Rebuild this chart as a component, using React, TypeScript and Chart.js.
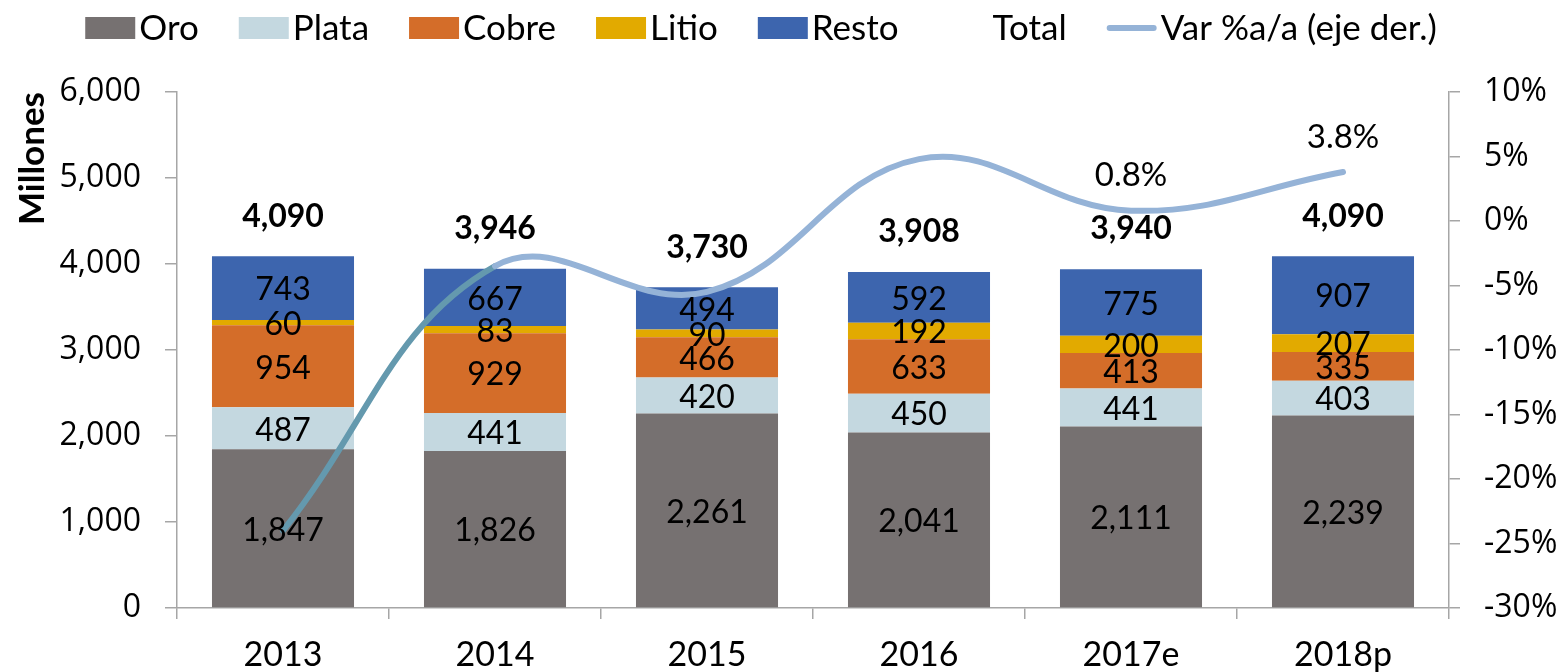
import React, { useEffect, useRef } from 'react';
import { Chart, registerables } from 'chart.js';

Chart.register(...registerables);

// ---- Data ----
const categories = ['2013', '2014', '2015', '2016', '2017e', '2018p'];
const oro = [1847, 1826, 2261, 2041, 2111, 2239];
const plata = [487, 441, 420, 450, 441, 403];
const cobre = [954, 929, 466, 633, 413, 335];
const litio = [60, 83, 90, 192, 200, 207];
const resto = [743, 667, 494, 592, 775, 907];
const total = [4090, 3946, 3730, 3908, 3940, 4090];
const varPct = [-24.0, -3.5, -5.5, 4.8, 0.8, 3.8];
const varLabelShown = [false, false, false, false, true, true];
const seriesNames = ['Oro', 'Plata', 'Cobre', 'Litio', 'Resto', 'Total', 'Var %a/a (eje der.)'];

// ---- Style ----
const COLORS = {
  oro: '#767171',
  plata: '#c4d8e0',
  cobre: '#d46d29',
  litio: '#e2aa00',
  resto: '#3d65ae',
  line: '#95b3d7',
  lineDark: '#6499ae',
  axis: '#a6a6a6',
};
const LABEL_FONT = 'Lato, "Noto Sans", sans-serif';
const TICK_FONT = '"Open Sans", "Noto Sans", sans-serif';

const fmt = (v: number) => v.toLocaleString('en-US');

const valueLabelsPlugin = {
  id: 'valueLabels',
  afterDatasetsDraw(chart: any) {
    const ctx = chart.ctx;
    ctx.save();
    ctx.fillStyle = '#000';
    ctx.textAlign = 'center';
    ctx.textBaseline = 'middle';
    chart.data.datasets.forEach((ds: any, i: number) => {
      const meta = chart.getDatasetMeta(i);
      meta.data.forEach((el: any, j: number) => {
        const v = ds.data[j];
        if (ds.labelKind === 'bar') {
          ctx.font = `32px ${LABEL_FONT}`;
          const p = el.getProps(['x', 'y', 'base'], true);
          ctx.fillText(fmt(v), p.x, (p.y + p.base) / 2 + 2);
        } else if (ds.labelKind === 'total') {
          ctx.font = `bold 32px ${LABEL_FONT}`;
          ctx.fillText(fmt(v), el.x, el.y - 40);
        } else if (ds.labelKind === 'var' && varLabelShown[j]) {
          ctx.font = `33px ${LABEL_FONT}`;
          ctx.fillText(v.toFixed(1) + '%', el.x, el.y - 35);
        }
      });
    });
    ctx.restore();
  },
};

const legendPlugin = {
  id: 'customLegend',
  afterDraw(chart: any) {
    const ctx = chart.ctx;
    ctx.save();
    ctx.font = `35px ${LABEL_FONT}`;
    ctx.textBaseline = 'middle';
    ctx.textAlign = 'left';
    const SW = 50;
    const SH = 22;
    const GAP = 4;
    const ITEM_GAP = 40;
    const CY = 28;
    const CX = 761;
    const items = chart.data.datasets.map((ds: any) => ({
      text: ds.label,
      kind: ds.legendKind,
      color: ds.legendColor,
    }));
    const widths = items.map((it: any) => SW + GAP + ctx.measureText(it.text).width);
    const totalW = widths.reduce((a: number, b: number) => a + b, 0) + ITEM_GAP * (items.length - 1);
    let x = CX - totalW / 2;
    items.forEach((it: any, k: number) => {
      if (it.kind === 'box') {
        ctx.fillStyle = it.color;
        ctx.fillRect(x, CY - SH / 2, SW, SH);
      } else if (it.kind === 'line') {
        ctx.strokeStyle = it.color;
        ctx.lineWidth = 6;
        ctx.lineCap = 'round';
        ctx.beginPath();
        ctx.moveTo(x + 3, CY);
        ctx.lineTo(x + SW - 3, CY);
        ctx.stroke();
      }
      ctx.fillStyle = '#000';
      ctx.fillText(it.text, x + SW + GAP, CY + 1);
      x += widths[k] + ITEM_GAP;
    });
    ctx.restore();
  },
};

export default function App() {
  const canvasRef = useRef<HTMLCanvasElement | null>(null);

  useEffect(() => {
    if (!canvasRef.current) return;
    const barCommon = {
      type: 'bar' as const,
      stack: 'bars',
      yAxisID: 'y',
      barPercentage: 0.67,
      categoryPercentage: 1.0,
      borderWidth: 0,
      order: 2,
      labelKind: 'bar',
      legendKind: 'box',
    };
    const chart = new Chart(canvasRef.current, {
      type: 'bar',
      data: {
        labels: categories,
        datasets: [
          { ...barCommon, label: seriesNames[0], data: oro, backgroundColor: COLORS.oro, legendColor: COLORS.oro },
          { ...barCommon, label: seriesNames[1], data: plata, backgroundColor: COLORS.plata, legendColor: COLORS.plata },
          { ...barCommon, label: seriesNames[2], data: cobre, backgroundColor: COLORS.cobre, legendColor: COLORS.cobre },
          { ...barCommon, label: seriesNames[3], data: litio, backgroundColor: COLORS.litio, legendColor: COLORS.litio },
          { ...barCommon, label: seriesNames[4], data: resto, backgroundColor: COLORS.resto, legendColor: COLORS.resto },
          {
            type: 'line',
            label: seriesNames[5],
            data: total,
            yAxisID: 'y',
            stack: 'total',
            showLine: false,
            pointRadius: 0,
            borderWidth: 0,
            order: 1,
            labelKind: 'total',
            legendKind: 'none',
          },
          {
            type: 'line',
            label: seriesNames[6],
            data: varPct,
            yAxisID: 'y1',
            borderColor: COLORS.line,
            borderWidth: 6,
            borderCapStyle: 'round',
            pointRadius: 0,
            tension: 0.4,
            fill: false,
            order: 0,
            clip: false,
            segment: {
              borderColor: (c: any) => (c.p0DataIndex === 0 ? COLORS.lineDark : COLORS.line),
            },
            labelKind: 'var',
            legendKind: 'line',
            legendColor: COLORS.line,
          },
        ] as any,
      },
      options: {
        animation: false,
        responsive: true,
        maintainAspectRatio: false,
        events: [],
        layout: { padding: { top: 92, left: 0, right: 0, bottom: 0 } },
        plugins: {
          legend: { display: false },
          tooltip: { enabled: false },
          title: { display: false },
        },
        scales: {
          x: {
            stacked: true,
            offset: true,
            grid: {
              offset: true,
              display: true,
              drawOnChartArea: false,
              drawTicks: true,
              tickLength: 11,
              color: COLORS.axis,
              lineWidth: 1.5,
            },
            border: { display: true, color: COLORS.axis, width: 1.5 },
            ticks: {
              color: '#000',
              font: { family: LABEL_FONT, size: 34 },
              padding: 16,
              maxRotation: 0,
            },
            afterFit: (s: any) => {
              s.height = 64;
            },
          },
          y: {
            stacked: true,
            position: 'left',
            min: 0,
            max: 6000,
            grid: {
              display: true,
              drawOnChartArea: false,
              drawTicks: true,
              tickLength: 12,
              color: COLORS.axis,
              lineWidth: 1.5,
            },
            border: { display: true, color: COLORS.axis, width: 1.5 },
            ticks: {
              stepSize: 1000,
              color: '#000',
              font: { family: TICK_FONT, size: 32 },
              padding: 24,
              callback: (v: any) => fmt(Number(v)),
            },
            title: {
              display: true,
              text: 'Millones',
              align: 'end',
              color: '#000',
              font: { family: LABEL_FONT, size: 35, weight: 'bold' },
              padding: { top: 12, bottom: 0 },
            },
            afterFit: (s: any) => {
              s.width = 177;
            },
          },
          y1: {
            position: 'right',
            min: -30,
            max: 10,
            grid: {
              display: true,
              drawOnChartArea: false,
              drawTicks: true,
              tickLength: 11,
              color: COLORS.axis,
              lineWidth: 1.5,
            },
            border: { display: true, color: COLORS.axis, width: 1.5 },
            ticks: {
              stepSize: 5,
              color: '#000',
              font: { family: TICK_FONT, size: 32 },
              padding: 24,
              callback: (v: any) => `${v}%`,
            },
            afterFit: (s: any) => {
              s.width = 114;
            },
          },
        },
      } as any,
      plugins: [valueLabelsPlugin, legendPlugin],
    });
    return () => chart.destroy();
  }, []);

  return (
    <div style={{ position: 'fixed', left: 0, top: 0, width: '1563px', height: '672px', background: '#fff' }}>
      <canvas ref={canvasRef} />
    </div>
  );
}
